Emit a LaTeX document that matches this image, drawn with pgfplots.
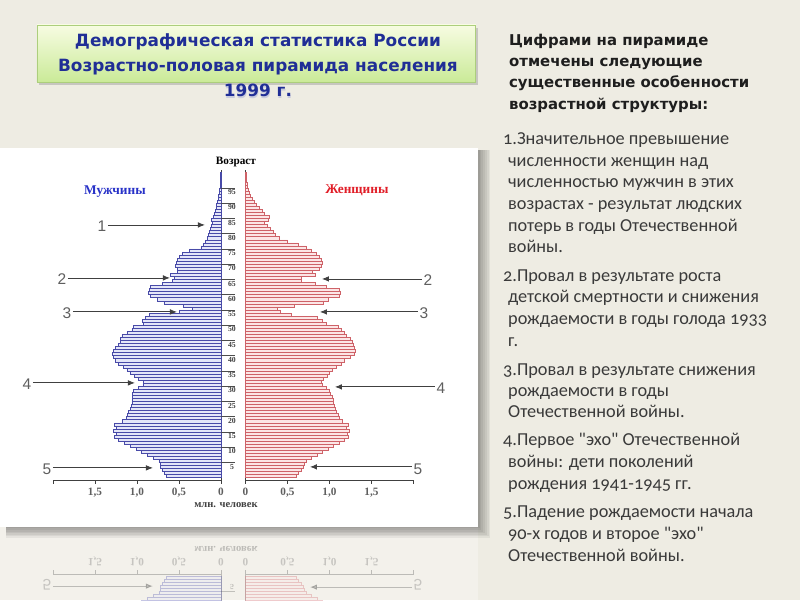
\documentclass[border=0pt]{standalone}
\usepackage{fontspec}
\setmainfont{Liberation Serif}
\newfontfamily\titlefont{DejaVu Sans}
\newfontfamily\bodyfont[Numbers=OldStyle]{Carlito}
\newfontfamily\numfont{Liberation Sans}
\usepackage{pgfplots}
\usepackage{pgfplotstable}
\pgfplotsset{compat=1.18}
\usetikzlibrary{arrows.meta,shadows}

\definecolor{slidebg}{RGB}{238,236,227}
\definecolor{titleblue}{RGB}{32,46,150}
\definecolor{menline}{RGB}{72,74,168}
\definecolor{menfill}{RGB}{228,230,248}
\definecolor{womline}{RGB}{206,98,104}
\definecolor{womfill}{RGB}{252,230,230}
\definecolor{headgray}{RGB}{30,30,30}
\definecolor{textgray}{RGB}{58,58,58}
\definecolor{numgray}{RGB}{95,95,95}
\definecolor{boxtop}{RGB}{247,252,226}
\definecolor{boxbot}{RGB}{202,234,152}
\definecolor{boxedge}{RGB}{172,206,124}

% population by single year of age, mln
\pgfplotstableread{
age m w
0 0.65 0.61
1 0.67 0.63
2 0.70 0.66
3 0.72 0.69
4 0.72 0.70
5 0.74 0.72
6 0.80 0.78
7 0.88 0.86
8 0.95 0.92
9 1.01 0.98
10 1.08 1.04
11 1.15 1.12
12 1.22 1.18
13 1.27 1.22
14 1.25 1.21
15 1.28 1.23
16 1.25 1.20
17 1.27 1.22
18 1.18 1.15
19 1.13 1.12
20 1.11 1.10
21 1.10 1.08
22 1.08 1.07
23 1.07 1.06
24 1.06 1.04
25 1.06 1.04
26 1.05 1.03
27 1.05 1.01
28 1.04 1.00
29 0.98 0.96
30 0.93 0.91
31 0.92 0.90
32 0.98 0.93
33 1.03 0.97
34 1.08 1.00
35 1.12 1.03
36 1.16 1.08
37 1.22 1.14
38 1.26 1.18
39 1.28 1.25
40 1.29 1.30
41 1.28 1.31
42 1.26 1.30
43 1.22 1.28
44 1.20 1.27
45 1.20 1.25
46 1.18 1.20
47 1.12 1.18
48 1.06 1.14
49 1.04 1.10
50 0.92 0.96
51 0.94 0.92
52 0.90 0.86
53 0.85 0.55
54 0.50 0.42
55 0.34 0.38
56 0.45 0.58
57 0.68 0.93
58 0.76 0.98
59 0.84 1.12
60 0.86 1.13
61 0.85 1.12
62 0.84 0.96
63 0.70 0.83
64 0.58 0.67
65 0.56 0.67
66 0.60 0.83
67 0.52 0.79
68 0.52 0.88
69 0.54 0.90
70 0.53 0.91
71 0.52 0.90
72 0.50 0.88
73 0.46 0.84
74 0.38 0.78
75 0.24 0.72
76 0.21 0.63
77 0.19 0.50
78 0.16 0.40
79 0.15 0.35
80 0.14 0.33
81 0.13 0.30
82 0.12 0.26
83 0.10 0.22
84 0.11 0.27
85 0.09 0.28
86 0.08 0.22
87 0.07 0.20
88 0.06 0.16
89 0.05 0.13
90 0.04 0.10
91 0.035 0.08
92 0.03 0.06
93 0.02 0.05
94 0.015 0.035
95 0.01 0.025
96 0.008 0.018
97 0.005 0.012
98 0.004 0.008
99 0.003 0.005
}\pyr

\tikzset{
  px/.style={yshift=15cm, x=0.025cm, y=-0.025cm},
  arr/.style={draw=black!75, line width=0.6pt, -{Latex[length=5pt,width=4pt]}},
  num/.style={font=\numfont\fontsize{11}{11}\selectfont, text=numgray, inner sep=1pt},
  agelab/.style={font=\bfseries\fontsize{5.5}{6}\selectfont, text=black!75, inner sep=0pt},
}

\pgfplotsset{pyr/.style={
  scale only axis, width=4.2cm, height=7.758cm,
  xmin=0, xmax=2, ymin=-1.25, ymax=100.5,
  xbar, bar width=1, bar shift=0,
  axis x line*=bottom,
  ytick=\empty,
  xtick={0,0.5,1,1.5,2}, xticklabels={0,{0,5},{1,0},{1,5},{}},
  tick align=outside, major tick length=2.5pt,
  xticklabel style={font=\bfseries\fontsize{8}{8}\selectfont, text=numgray},
  axis line style={line width=0.6pt, black!75},
  tick style={black!75, line width=0.5pt},
  clip=false,
}}

\newif\ifreflect
\reflectfalse

\newcommand{\pyramid}{%
  \begin{scope}[px]
    \fill[white] (0,148) rectangle (478,527);
  \end{scope}
  \begin{axis}[pyr, x dir=reverse, axis y line*=right,
      at={(5.525cm,3cm)}, anchor=south east]
    \addplot[draw=menline, fill=menfill, line width=0.45pt] table[x=m, y=age] {\pyr};
  \end{axis}
  \begin{axis}[pyr, axis y line*=left,
      at={(6.1375cm,3cm)}, anchor=south west]
    \addplot[draw=womline, fill=womfill, line width=0.45pt] table[x=w, y=age] {\pyr};
  \end{axis}
  \begin{scope}[px]
    \foreach \a in {5,10,...,95}{
      \draw[black!70, line width=0.4pt] (221,{477.7-3.05*\a}) -- (235,{477.7-3.05*\a});
    }
    \node[agelab] at (232,{477.7-3.05*5+4.2}) {5};
    \node[font=\bfseries\fontsize{7.5}{8}\selectfont, text=black!75] at (226,505) {млн. человек};
    \draw[arr] (53,468) -- (153,468);  \node[num, anchor=east] at (53,469) {5};
    \draw[arr] (412,467) -- (310,467); \node[num, anchor=west] at (412,469) {5};
    \ifreflect\else
    \foreach \a in {10,15,...,95}{
      \node[agelab] at (232,{477.7-3.05*\a+4.2}) {\a};
    }
    \node[font=\bfseries\fontsize{8}{8}\selectfont] at (236,162) {Возраст};
    \node[font=\bfseries\fontsize{9.5}{10}\selectfont, text={rgb,255:red,40;green,50;blue,200}] at (115,192) {Мужчины};
    \node[font=\bfseries\fontsize{9.5}{10}\selectfont, text={rgb,255:red,225;green,30;blue,40}] at (357,190) {Женщины};
    % left arrows
    \draw[arr] (108,225) -- (205,225); \node[num, anchor=east] at (108,226) {1};
    \draw[arr] (68,278) -- (170,278);  \node[num, anchor=east] at (68,279) {2};
    \draw[arr] (73,312) -- (177,312);  \node[num, anchor=east] at (73,313) {3};
    \draw[arr] (33,383) -- (135,383);  \node[num, anchor=east] at (33,384) {4};
    % right arrows
    \draw[arr] (422,279) -- (322,279); \node[num, anchor=west] at (422,280) {2};
    \draw[arr] (418,312) -- (320,312); \node[num, anchor=west] at (418,313) {3};
    \draw[arr] (435,387) -- (335,387); \node[num, anchor=west] at (435,388) {4};
    \fi
  \end{scope}
}

\begin{document}
\begin{tikzpicture}
\useasboundingbox (0,0) rectangle (20cm,15cm);
\fill[slidebg] (0,0) rectangle (20cm,15cm);

% reflection under the panel
\begin{scope}
  \clip (0,0) rectangle (20cm,1.825cm);
  \begin{scope}[transform canvas={yshift=3.65cm, yscale=-1}, opacity=0.3]
    \reflecttrue
    \pyramid
  \end{scope}
\end{scope}
\reflectfalse

% panel shadow
\begin{scope}[px]
  \foreach \i in {1,...,7}{
    \fill[black, opacity=0.055] (6,150) rectangle ({478+1.8*\i},{527+1.6*\i});
  }
\end{scope}

\pyramid

\begin{scope}[px]
  % title box
  \shade[top color=boxtop, bottom color=boxbot, draw=boxedge, line width=0.6pt,
    drop shadow={opacity=0.35, shadow xshift=1.5pt, shadow yshift=-2pt}]
    (37,25) rectangle (476,82);
  \begin{scope}[every node/.style={font=\titlefont\bfseries\fontsize{12}{13}\selectfont,
      text=titleblue, anchor=base, inner sep=0pt}]
    \node at (258,47) {Демографическая статистика России};
    \node at (258,72) {Возрастно-половая пирамида населения};
    \node[text=titleblue!35, opacity=0.6] at (258.5,98.5) {1999 г.};
    \node at (258,97) {1999 г.};
  \end{scope}

  % header
  \begin{scope}[every node/.style={font=\titlefont\bfseries\fontsize{10.6}{12}\selectfont,
      text=headgray, anchor=base west, inner sep=0pt}]
    \node at (509,46) {Цифрами на пирамиде};
    \node at (509,67) {отмечены следующие};
    \node at (509,88) {существенные особенности};
    \node at (509,110) {возрастной структуры:};
  \end{scope}

  % numbered notes
  \begin{scope}[every node/.style={font=\bodyfont\fontsize{13}{15}\selectfont,
      text=textgray, anchor=base west, inner sep=0pt}]
    \node at (503,145) {1.Значительное превышение};
    \node at (508,167) {численности женщин над};
    \node at (508,188) {численностью мужчин в этих};
    \node at (508,210) {возрастах - результат людских};
    \node at (508,232) {потерь в годы Отечественной};
    \node at (508,253) {войны.};
    \node at (503,282) {2.Провал в результате роста};
    \node at (508,303) {детской смертности и снижения};
    \node at (508,325) {рождаемости в годы голода 1933};
    \node at (508,347) {г.};
    \node at (503,376) {3.Провал в результате снижения};
    \node at (508,397) {рождаемости в годы};
    \node at (508,418) {Отечественной войны.};
    \node at (503,446) {4.Первое "эхо" Отечественной};
    \node at (508,468) {войны: дети поколений};
    \node at (508,490) {рождения 1941-1945 гг.};
    \node at (503,518) {5.Падение рождаемости начала};
    \node at (508,540) {90-х годов и второе "эхо"};
    \node at (508,562) {Отечественной войны.};
  \end{scope}
\end{scope}
\end{tikzpicture}
\end{document}
